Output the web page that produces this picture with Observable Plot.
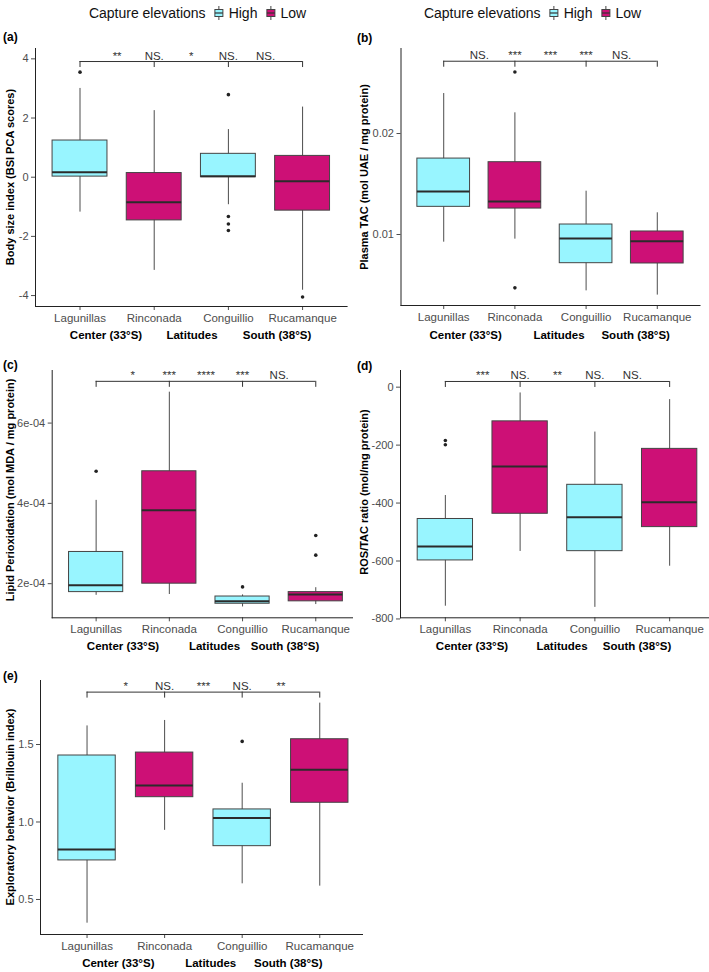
<!DOCTYPE html>
<html><head><meta charset="utf-8">
<script src="https://cdn.jsdelivr.net/npm/d3@7"></script>
<script src="https://cdn.jsdelivr.net/npm/@observablehq/plot@0.6"></script>
<style>
body{margin:0;background:#fff;font-family:"Liberation Sans",Arial,sans-serif;}
#fig{position:relative;width:709px;height:972px;overflow:hidden;background:#fff;}
.abs{position:absolute;white-space:nowrap;}
.wrap{position:absolute;overflow:hidden;}
.tag{font-weight:bold;font-size:12px;color:#000;transform:translateY(-50%);}
.ytitle{font-weight:bold;font-size:11px;color:#000;transform:translate(-50%,-50%) rotate(-90deg);}
.xt{font-weight:bold;font-size:11.5px;color:#000;transform:translate(-50%,-50%);}
.legend{font-size:14px;color:#111;display:flex;align-items:center;gap:5px;transform:translate(-50%,-50%);}
.legend svg{display:block}
</style></head>
<body><div id="fig"></div>
<script>
// ---------- shared categories ----------
const sites = ["Lagunillas", "Rinconada", "Conguillio", "Rucamanque"];
const elevation = ["High", "Low", "High", "Low"];
const elevationLevels = ["High", "Low"];
const elevationColors = ["#98F5FF", "#CD1076"];
const xTitleParts = ["Center (33°S)", "Latitudes", "South (38°S)"];
const sigPos = [1.5, 2, 2.5, 3, 3.5];

// ---------- (a) Body size index ----------
const bsiLo = [-1.18, -3.15, -0.93, -3.82];
const bsiQ1 = [0.02, -1.46, 0.0, -1.13];
const bsiMed = [0.17, -0.85, 0.03, -0.14];
const bsiQ3 = [1.24, 0.14, 0.79, 0.72];
const bsiHi = [3.0, 2.25, 1.61, 2.37];
const bsiOutSite = ["Lagunillas", "Conguillio", "Conguillio", "Conguillio", "Conguillio", "Rucamanque"];
const bsiOutVal = [3.55, 2.79, -1.33, -1.58, -1.80, -4.05];
const bsiSig = ["**", "NS.", "*", "NS.", "NS."];
const bsiTicks = [-4, -2, 0, 2, 4];

// ---------- (b) Plasma TAC ----------
const tacLo = [0.00924, 0.00954, 0.00442, 0.0040];
const tacQ1 = [0.01274, 0.01257, 0.00716, 0.00713];
const tacMed = [0.01426, 0.01327, 0.0096, 0.00934];
const tacQ3 = [0.01752, 0.01716, 0.01099, 0.0103];
const tacHi = [0.02396, 0.02205, 0.01429, 0.01215];
const tacOutSite = ["Rinconada", "Rinconada"];
const tacOutVal = [0.0261, 0.00472];
const tacSig = ["NS.", "***", "***", "***", "NS."];
const tacTicks = [0.01, 0.02];

// ---------- (c) Lipid peroxidation ----------
const lpoLo = [1.71e-4, 1.73e-4, 1.42e-4, 1.48e-4];
const lpoQ1 = [1.79e-4, 2.0e-4, 1.50e-4, 1.56e-4];
const lpoMed = [1.96e-4, 3.83e-4, 1.56e-4, 1.73e-4];
const lpoQ3 = [2.79e-4, 4.80e-4, 1.68e-4, 1.79e-4];
const lpoHi = [4.075e-4, 6.77e-4, 1.72e-4, 1.90e-4];
const lpoOutSite = ["Lagunillas", "Conguillio", "Rucamanque", "Rucamanque"];
const lpoOutVal = [4.80e-4, 1.92e-4, 3.20e-4, 2.71e-4];
const lpoSig = ["*", "***", "****", "***", "NS."];
const lpoTicks = [2e-4, 4e-4, 6e-4];
const lpoTickLabels = ["2e-04", "4e-04", "6e-04"];

// ---------- (d) ROS/TAC ratio ----------
const rosLo = [-756, -567, -760, -618];
const rosQ1 = [-598, -437, -566, -483];
const rosMed = [-550, -274, -449, -397];
const rosQ3 = [-455, -118, -337, -213];
const rosHi = [-374, -20, -155, -43];
const rosOutSite = ["Lagunillas", "Lagunillas"];
const rosOutVal = [-184, -199];
const rosSig = ["***", "NS.", "**", "NS.", "NS."];
const rosTicks = [-800, -600, -400, -200, 0];

// ---------- (e) Exploratory behaviour ----------
const expLo = [0.347, 0.946, 0.601, 0.586];
const expQ1 = [0.752, 1.160, 0.844, 1.124];
const expMed = [0.823, 1.235, 1.025, 1.337];
const expQ3 = [1.429, 1.448, 1.081, 1.534];
const expHi = [1.62, 1.655, 1.25, 1.767];
const expOutSite = ["Conguillio"];
const expOutVal = [1.52];
const expSig = ["*", "NS.", "***", "NS.", "**"];
const expTicks = [0.5, 1.0, 1.5];

const FONT = "'Liberation Sans', Arial, sans-serif";
const fig = document.getElementById("fig");

function boxPanel(cfg) {
  const rows = sites.map((s, i) => ({
    pos: i + 1, site: s, elev: elevation[i],
    lo: cfg.lo[i], q1: cfg.q1[i], med: cfg.med[i], q3: cfg.q3[i], hi: cfg.hi[i]
  }));
  const outs = cfg.outSite.map((s, i) => ({pos: sites.indexOf(s) + 1, v: cfg.outVal[i]}));
  const hw = 0.37;
  const plot = Plot.plot({
    width: cfg.width, height: cfg.height,
    marginLeft: cfg.ml, marginRight: cfg.mr, marginTop: cfg.mt, marginBottom: cfg.mb,
    style: {fontFamily: FONT, background: "transparent", overflow: "visible", maxWidth: "none"},
    x: {domain: [0.4, 4.6]},
    y: {domain: cfg.domain},
    color: {domain: elevationLevels, range: elevationColors},
    marks: [
      Plot.axisY({ticks: cfg.ticks, tickFormat: cfg.fmt, tickSize: 4, tickPadding: 3, fontSize: 11, color: "#4d4d4d", label: null}),
      Plot.axisX({ticks: [1, 2, 3, 4], tickFormat: (d) => sites[d - 1], tickSize: 4, tickPadding: 3, fontSize: 11.5, color: "#4d4d4d", label: null}),
      Plot.frame({anchor: "left", stroke: "#222"}),
      Plot.frame({anchor: "bottom", stroke: "#222"}),
      Plot.ruleX(rows, {x: "pos", y1: "lo", y2: "hi", stroke: "#4d4d4d", strokeWidth: 1}),
      Plot.rect(rows, {x1: (d) => d.pos - hw, x2: (d) => d.pos + hw, y1: "q1", y2: "q3", fill: "elev", stroke: "#444", strokeWidth: 1}),
      Plot.ruleY(rows, {x1: (d) => d.pos - hw, x2: (d) => d.pos + hw, y: "med", stroke: "#2b2b2b", strokeWidth: 2}),
      Plot.dot(outs, {x: "pos", y: "v", r: 1.8, fill: "#222", stroke: null}),
      Plot.ruleY([cfg.bracket], {x1: 1, x2: 4, y: (d) => d, stroke: "#333", strokeWidth: 1}),
      Plot.ruleX([1, 2, 3, 4], {x: (d) => d, y1: () => cfg.bracket, y2: () => cfg.bracket, insetBottom: -6, stroke: "#333", strokeWidth: 1}),
      Plot.text(sigPos, {x: (d) => d, y: () => cfg.bracket, text: (d, i) => cfg.sig[i], lineAnchor: "bottom", dy: -2, fontSize: 11.5, fill: "#333"})
    ]
  });
  const wrap = document.createElement("div");
  wrap.className = "wrap";
  wrap.style.left = cfg.left + "px";
  wrap.style.top = cfg.top + "px";
  wrap.style.width = (cfg.clipW || cfg.width) + "px";
  wrap.style.height = cfg.height + "px";
  wrap.appendChild(plot);
  fig.appendChild(wrap);

  addText("tag", cfg.tag, cfg.tagX, cfg.tagY);
  addText("ytitle", cfg.ytitle, cfg.ytX, cfg.ytY);
  xTitleParts.forEach((t, i) => addText("xt", t, cfg.xtX[i], cfg.xtY));
}

function addText(cls, txt, x, y) {
  const d = document.createElement("div");
  d.className = "abs " + cls;
  d.textContent = txt;
  d.style.left = x + "px";
  d.style.top = y + "px";
  fig.appendChild(d);
}

function keySvg(color) {
  return `<svg width="10" height="14" viewBox="0 0 10 14"><line x1="5" x2="5" y1="0" y2="14" stroke="#444" stroke-width="1"/><rect x="1" y="3.5" width="8" height="7" fill="${color}" stroke="#444" stroke-width="1"/><line x1="1" x2="9" y1="7" y2="7" stroke="#333" stroke-width="1.2"/></svg>`;
}

function addLegend(cx, cy) {
  const d = document.createElement("div");
  d.className = "abs legend";
  d.style.left = cx + "px";
  d.style.top = cy + "px";
  let html = `<span style="margin-right:3px">Capture elevations</span>`;
  elevationLevels.forEach((lv, i) => {
    html += keySvg(elevationColors[i]) + `<span style="margin-right:3px">${lv}</span>`;
  });
  d.innerHTML = html;
  fig.appendChild(d);
}

addLegend(199, 13);
addLegend(534, 13);

boxPanel({lo: bsiLo, q1: bsiQ1, med: bsiMed, q3: bsiQ3, hi: bsiHi, outSite: bsiOutSite, outVal: bsiOutVal,
  sig: bsiSig, ticks: bsiTicks, fmt: (d) => String(d), domain: [-4.37, 4.35], bracket: 3.91,
  left: 0, top: 30, width: 354, height: 300, ml: 35, mr: 7.4, mt: 18, mb: 24,
  tag: "(a)", tagX: 3, tagY: 37, ytitle: "Body size index (BSI PCA scores)", ytX: 10, ytY: 177,
  xtX: [106, 192, 277], xtY: 335});

boxPanel({lo: tacLo, q1: tacQ1, med: tacMed, q3: tacQ3, hi: tacHi, outSite: tacOutSite, outVal: tacOutVal,
  sig: tacSig, ticks: tacTicks, fmt: d3.format(".2f"), domain: [0.00297, 0.02842], bracket: 0.02716,
  left: 354, top: 30, width: 355, height: 300, ml: 46.5, mr: 9.5, mt: 18, mb: 25,
  tag: "(b)", tagX: 357, tagY: 37.5, ytitle: "Plasma TAC (mol UAE / mg protein)", ytX: 364, ytY: 177,
  xtX: [465.7, 559, 635.7], xtY: 335});

boxPanel({lo: lpoLo, q1: lpoQ1, med: lpoMed, q3: lpoQ3, hi: lpoHi, outSite: lpoOutSite, outVal: lpoOutVal,
  sig: lpoSig, ticks: lpoTicks, fmt: (d, i) => lpoTickLabels[lpoTicks.indexOf(d)], domain: [1.15e-4, 7.31e-4], bracket: 7.04e-4,
  left: 0, top: 352, width: 365, clipW: 353, height: 288, ml: 51.7, mr: 5.8, mt: 18, mb: 22.7,
  tag: "(c)", tagX: 3, tagY: 365, ytitle: "Lipid Perioxidation (mol MDA / mg protein)", ytX: 10, ytY: 490,
  xtX: [123, 214.5, 285], xtY: 646});

boxPanel({lo: rosLo, q1: rosQ1, med: rosMed, q3: rosQ3, hi: rosHi, outSite: rosOutSite, outVal: rosOutVal,
  sig: rosSig, ticks: rosTicks, fmt: (d) => String(d), domain: [-796, 57.5], bracket: 19.6,
  left: 354, top: 352, width: 370, height: 288, ml: 46, mr: 10, mt: 18, mb: 22.7,
  tag: "(d)", tagX: 357, tagY: 366, ytitle: "ROS/TAC ratio (mol/mg protein)", ytX: 364, ytY: 492,
  xtX: [472, 562, 637], xtY: 646});

boxPanel({lo: expLo, q1: expQ1, med: expMed, q3: expQ3, hi: expHi, outSite: expOutSite, outVal: expOutVal,
  sig: expSig, ticks: expTicks, fmt: d3.format(".1f"), domain: [0.274, 1.913], bracket: 1.838,
  left: 0, top: 662, width: 372, clipW: 363, height: 296, ml: 40, mr: 6.2, mt: 18, mb: 24,
  tag: "(e)", tagX: 3, tagY: 676, ytitle: "Exploratory behavior (Brillouin index)", ytX: 10, ytY: 807,
  xtX: [118.3, 210.7, 288.3], xtY: 963});
</script>
</body></html>
